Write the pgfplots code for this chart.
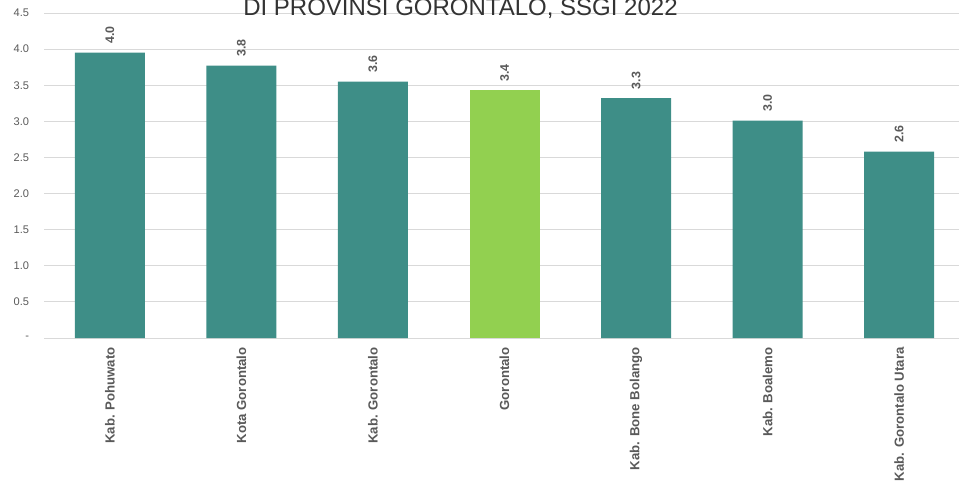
\documentclass[border=0pt]{standalone}
\usepackage{pgfplots}
\pgfplotsset{compat=1.18}
\usepackage{fontspec}
\setmainfont{Liberation Sans}
\definecolor{teal1}{HTML}{3E8E87}
\definecolor{green1}{HTML}{92D050}
\definecolor{txt}{HTML}{595959}
\definecolor{grd}{HTML}{D9D9D9}
\begin{document}
\begin{tikzpicture}
\begin{axis}[
  at={(33pt,111.75pt)}, anchor=south west,
  scale only axis, width=690.75pt, height=243.75pt,
  xmin=-0.5, xmax=6.5, ymin=0, ymax=4.5,
  axis line style={draw=none},
  major tick length=0pt,
  ymajorgrids, grid style={draw=grd, line width=0.75pt},
  ytick={0,0.5,1,1.5,2,2.5,3,3.5,4,4.5},
  yticklabels={-,0.5,1.0,1.5,2.0,2.5,3.0,3.5,4.0,4.5},
  yticklabel style={font=\fontsize{8.3}{9}\selectfont, text=txt, inner sep=0pt, anchor=east, xshift=-11pt},
  xtick={0,1,2,3,4,5,6},
  xticklabels={Kab. Pohuwato, Kota Gorontalo, Kab. Gorontalo, Gorontalo, Kab. Bone Bolango, Kab. Boalemo, Kab. Gorontalo Utara},
  xticklabel style={font=\fontsize{9.9}{11}\selectfont\bfseries, text=txt, inner sep=0pt, yshift=-6.75pt, rotate=90, anchor=east},
  ybar, bar width=52.5pt, bar shift=0pt,
  point meta=explicit symbolic,
  nodes near coords,
  nodes near coords style={font=\fontsize{9.3}{10}\selectfont\bfseries, text=txt, inner sep=0pt, yshift=6.5pt, rotate=90, anchor=west},
  clip=false,
]
\addplot[fill=teal1, draw=none] table[meta=lab] {
x y lab
0 3.95 4.0
1 3.77 3.8
2 3.55 3.6
4 3.32 3.3
5 3.01 3.0
6 2.58 2.6
};
\addplot[fill=green1, draw=none] table[meta=lab] {
x y lab
3 3.43 3.4
};
\end{axis}
\node[anchor=base west, inner sep=0pt, text=black!80, font=\fontsize{18}{20}\selectfont] at (182.25pt,354pt) {DI PROVINSI GORONTALO, SSGI 2022};
\pgfresetboundingbox
\useasboundingbox (0,0) rectangle (719.25pt,365.25pt);
\end{tikzpicture}
\end{document}
